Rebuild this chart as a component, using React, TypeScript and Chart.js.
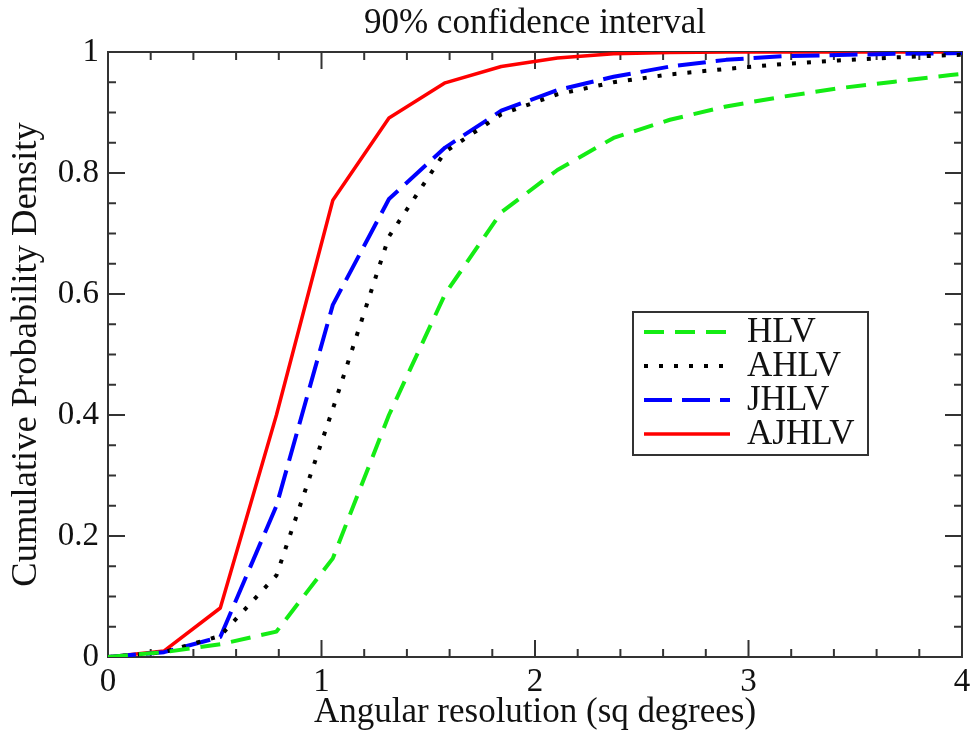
import React, { useEffect, useRef } from 'react';
import { Chart, registerables } from 'chart.js';

Chart.register(...registerables);

// ---- data ----
const xValues = [0, 0.263, 0.526, 0.789, 1.053, 1.316, 1.579, 1.842, 2.105, 2.368, 2.632, 2.895, 3.158, 3.421, 3.684, 3.947, 4.211];
const hlv = [0, 0.008, 0.021, 0.042, 0.163, 0.4, 0.6, 0.735, 0.805, 0.858, 0.888, 0.91, 0.926, 0.94, 0.951, 0.962, 0.972];
const ahlv = [0, 0.008, 0.035, 0.135, 0.41, 0.695, 0.835, 0.897, 0.93, 0.95, 0.963, 0.972, 0.98, 0.986, 0.991, 0.995, 0.997];
const jhlv = [0, 0.008, 0.033, 0.25, 0.582, 0.757, 0.842, 0.903, 0.937, 0.959, 0.976, 0.987, 0.993, 0.995, 0.997, 0.998, 0.999];
const ajhlv = [0, 0.01, 0.081, 0.4, 0.755, 0.891, 0.949, 0.976, 0.99, 0.997, 0.999, 1, 1, 1, 1, 1, 1];

const seriesNames = ['HLV', 'AHLV', 'JHLV', 'AJHLV'];
const xTickLabels = ['0', '1', '2', '3', '4'];
const yTickLabels = ['0', '0.2', '0.4', '0.6', '0.8', '1'];
const chartTitle = '90% confidence interval';
const xTitle = 'Angular resolution (sq degrees)';
const yTitle = 'Cumulative Probability Density';

const FONT = "'Liberation Serif', 'Times New Roman', serif";
const AXIS_COLOR = '#333333';

function pts(ys: number[]) {
  return xValues.map((x, i) => ({ x, y: ys[i] }));
}

const framePlugin = {
  id: 'frameTicks',
  beforeDatasetsDraw(chart: any) {
    const { ctx, chartArea: a, scales } = chart;
    const x = scales.x;
    const y = scales.y;
    ctx.save();
    ctx.strokeStyle = AXIS_COLOR;
    ctx.lineWidth = 2;
    const seg = (x1: number, y1: number, x2: number, y2: number) => {
      ctx.beginPath();
      ctx.moveTo(x1, y1);
      ctx.lineTo(x2, y2);
      ctx.stroke();
    };
    for (let i = 1; i < 20; i++) {
      const px = x.getPixelForValue(i * 0.2);
      const len = i % 5 === 0 ? 17 : 8;
      seg(px, a.bottom, px, a.bottom - len);
      seg(px, a.top, px, a.top + len);
    }
    for (let i = 1; i < 20; i++) {
      const py = y.getPixelForValue(i * 0.05);
      const len = i % 4 === 0 ? 17 : 8;
      seg(a.left, py, a.left + len, py);
      seg(a.right, py, a.right - len, py);
    }
    ctx.strokeRect(a.left, a.top, a.right - a.left, a.bottom - a.top);
    ctx.restore();
  },
};

const overlayPlugin = {
  id: 'overlay',
  afterDatasetsDraw(chart: any) {
    const { ctx, chartArea: a } = chart;
    ctx.save();
    // title
    ctx.fillStyle = '#111';
    ctx.font = `35px ${FONT}`;
    ctx.textAlign = 'center';
    ctx.textBaseline = 'middle';
    ctx.fillText(chartTitle, (a.left + a.right) / 2, 24);

    // legend box
    const bx = a.left + 525;
    const by = a.top + 260;
    const bw = 235;
    const bh = 143;
    ctx.fillStyle = '#fff';
    ctx.fillRect(bx, by, bw, bh);
    ctx.strokeStyle = AXIS_COLOR;
    ctx.lineWidth = 2;
    ctx.strokeRect(bx, by, bw, bh);
    chart.data.datasets.forEach((ds: any, i: number) => {
      const ry = by + 20 + i * 34;
      ctx.save();
      ctx.strokeStyle = ds.borderColor;
      ctx.lineWidth = ds.borderWidth;
      ctx.setLineDash(ds.borderDash || []);
      ctx.lineCap = 'butt';
      ctx.beginPath();
      ctx.moveTo(bx + 11, ry);
      ctx.lineTo(bx + 97, ry);
      ctx.stroke();
      ctx.restore();
      ctx.fillStyle = '#111';
      ctx.font = `35px ${FONT}`;
      ctx.textAlign = 'left';
      ctx.textBaseline = 'middle';
      ctx.fillText(ds.label, bx + 114, ry + 1);
    });
    ctx.restore();
  },
};

export default function App() {
  const ref = useRef<HTMLCanvasElement>(null);
  useEffect(() => {
    document.body.style.margin = '0';
    const chart = new Chart(ref.current as HTMLCanvasElement, {
      type: 'line',
      data: {
        datasets: [
          { label: seriesNames[0], data: pts(hlv), borderColor: '#14ec14', borderWidth: 4, borderDash: [20, 11] },
          { label: seriesNames[1], data: pts(ahlv), borderColor: '#000000', borderWidth: 4, borderDash: [4, 11] },
          { label: seriesNames[2], data: pts(jhlv), borderColor: '#0000ff', borderWidth: 4, borderDash: [28, 10] },
          { label: seriesNames[3], data: pts(ajhlv), borderColor: '#ff0000', borderWidth: 3.5 },
        ] as any,
      },
      options: {
        animation: false,
        responsive: true,
        maintainAspectRatio: false,
        devicePixelRatio: 1,
        layout: { padding: { top: 52, right: 16, left: 0, bottom: 0 } },
        elements: { point: { radius: 0 }, line: { tension: 0, borderJoinStyle: 'round' } },
        plugins: { legend: { display: false }, title: { display: false }, tooltip: { enabled: false } },
        scales: {
          x: {
            type: 'linear',
            min: 0,
            max: 4,
            grid: { display: false, drawTicks: false },
            border: { display: false },
            ticks: {
              stepSize: 1,
              padding: 6,
              color: '#111',
              font: { family: FONT, size: 33 },
              callback: (v: any) => xTickLabels[Math.round(Number(v))],
              maxRotation: 0,
            },
            title: { display: true, text: xTitle, color: '#111', font: { family: FONT, size: 35 }, padding: { top: 0, bottom: 4 } },
            afterFit: (s: any) => { s.height = 81; },
          },
          y: {
            min: 0,
            max: 1,
            grid: { display: false, drawTicks: false },
            border: { display: false },
            ticks: {
              stepSize: 0.2,
              padding: 9,
              color: '#111',
              font: { family: FONT, size: 33 },
              callback: (v: any) => yTickLabels[Math.round(Number(v) * 5)],
            },
            title: { display: true, text: yTitle, color: '#111', font: { family: FONT, size: 36.5 }, padding: { top: 5, bottom: 0 } },
            afterFit: (s: any) => { s.width = 108; },
          },
        },
      } as any,
      plugins: [framePlugin, overlayPlugin],
    });
    return () => chart.destroy();
  }, []);
  return (
    <div style={{ width: 978, height: 738, position: 'relative' }}>
      <canvas ref={ref} />
    </div>
  );
}
